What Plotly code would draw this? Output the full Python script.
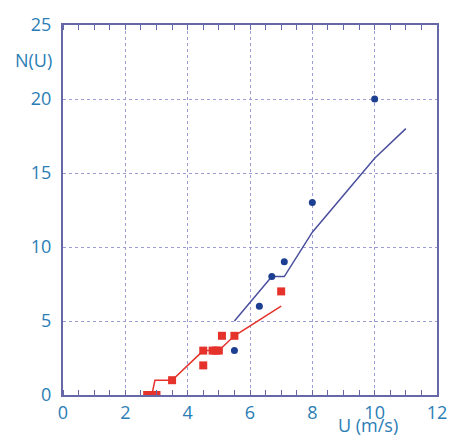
import plotly.graph_objects as go

# Data
blue_x = [5.5, 6.3, 6.7, 7.1, 8.0, 10.0]
blue_y = [3, 6, 8, 9, 13, 20]
blue_line_x = [5.5, 6.7, 7.1, 8.0, 10.0, 11.0]
blue_line_y = [5, 8, 8, 11, 16, 18]

red_x = [2.7, 2.8, 2.9, 3.0, 3.5, 4.5, 4.5, 4.8, 4.9, 5.0, 5.1, 5.5, 7.0]
red_y = [0, 0, 0, 0, 1, 3, 2, 3, 3, 3, 4, 4, 7]
red_line_x = [2.85, 2.95, 3.5, 4.5, 5.0, 5.5, 7.0]
red_line_y = [0, 1, 1, 3, 3, 4, 6]

x_ticks = [0, 2, 4, 6, 8, 10, 12]
y_ticks = [0, 5, 10, 15, 20, 25]

BLUE_M = "#1c3f91"
BLUE_L = "#4a4f9e"
RED = "#e5322b"
TXT = "#2a7db5"
AX = "#6668a8"
GRID = "#9c9cd4"
FONT = "Open Sans"

fig = go.Figure()
fig.add_trace(go.Scatter(x=blue_line_x, y=blue_line_y, mode="lines",
                         line=dict(color=BLUE_L, width=1.5), showlegend=False))
fig.add_trace(go.Scatter(x=red_line_x, y=red_line_y, mode="lines",
                         line=dict(color=RED, width=1.5), showlegend=False))
fig.add_trace(go.Scatter(x=blue_x, y=blue_y, mode="markers",
                         marker=dict(color=BLUE_M, size=7, symbol="circle"), showlegend=False))
fig.add_trace(go.Scatter(x=red_x, y=red_y, mode="markers",
                         marker=dict(color=RED, size=8, symbol="square"), showlegend=False))

fig.update_layout(
    width=459, height=439,
    margin=dict(l=63, r=18, t=25, b=43.5),
    paper_bgcolor="white", plot_bgcolor="white",
    font=dict(family=FONT, color=TXT, size=18),
    xaxis=dict(range=[0, 12], tickvals=x_ticks, ticktext=[str(v) for v in x_ticks],
               showline=True, linecolor=AX, linewidth=2, mirror="allticks",
               showgrid=True, gridcolor=GRID, griddash="dot", gridwidth=1,
               zeroline=False, ticks="", ticklabelstandoff=0,
               minor=dict(dtick=0.5, ticks="inside", ticklen=5, tickcolor=AX, showgrid=False),
               tickfont=dict(family=FONT, color=TXT, size=18)),
    yaxis=dict(range=[0, 25], tickvals=y_ticks, ticktext=[str(v) for v in y_ticks],
               showline=True, linecolor=AX, linewidth=2, mirror=True,
               showgrid=True, gridcolor=GRID, griddash="dot", gridwidth=1,
               zeroline=False, ticks="", ticklabelstandoff=6,
               tickfont=dict(family=FONT, color=TXT, size=18)),
    annotations=[
        dict(text="U (m/s)", xref="paper", yref="paper", x=0.815, y=-0.1174,
             showarrow=False, xanchor="center", yanchor="bottom", borderpad=0,
             font=dict(family=FONT, color=TXT, size=18)),
        dict(text="N(U)", xref="paper", yref="paper", x=-0.079, y=0.905,
             showarrow=False, xanchor="center", yanchor="middle",
             font=dict(family=FONT, color=TXT, size=18)),
    ],
)

fig.write_html("out.html")
